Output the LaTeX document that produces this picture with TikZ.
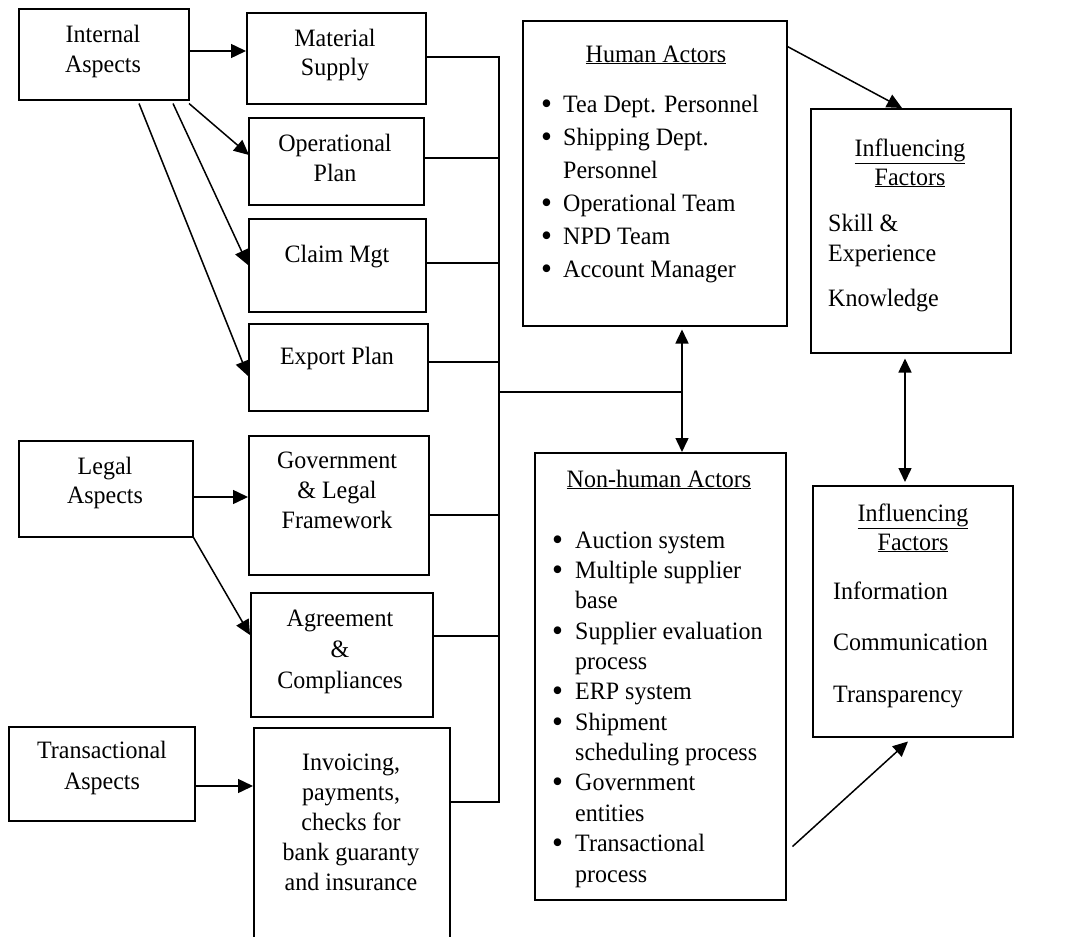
\documentclass[tikz,border=0pt]{standalone}
\usepackage{fontspec}
\usepackage{graphicx}
\setmainfont{Liberation Serif}[FakeStretch=0.96]
\usetikzlibrary{arrows.meta,calc}
\newcommand\bitem[2][22pt]{\makebox[#1][l]{\raisebox{-2pt}{\scalebox{1.3}{\textbullet}}}#2}
\newcommand\bcont[2][22pt]{\makebox[#1]{}#2}
\begin{document}
\begin{tikzpicture}[x=1pt,y=-1pt,
  ln/.style={line width=1.5pt},
  arr/.style={line width=1.5pt,-{Triangle[length=15pt,width=14pt]}},
  darr/.style={line width=1.5pt,{Triangle[length=14pt,width=13pt]}-{Triangle[length=14pt,width=13pt]}},
  box/.style={draw,line width=1.5pt,inner sep=0pt,anchor=north west},
  txt/.style={font=\fontsize{25}{#1}\selectfont,inner sep=0pt,align=center,anchor=base},
  txt/.default=30,
  ltxt/.style={font=\fontsize{25}{#1}\selectfont,inner sep=0pt,align=left,anchor=base west},
  ltxt/.default=30]
\useasboundingbox (0,0) rectangle (1066,937);
\clip (0,0) rectangle (1066,937);
% boxes
\node[box,minimum width=170pt,minimum height=91pt] (ia) at (18,8) {};
\node[box,minimum width=179pt,minimum height=91pt] (ms) at (246,12) {};
\node[box,minimum width=175pt,minimum height=87pt] (op) at (248,117) {};
\node[box,minimum width=177pt,minimum height=93pt] (cm) at (248,218) {};
\node[box,minimum width=179pt,minimum height=87pt] (ep) at (248,323) {};
\node[box,minimum width=174pt,minimum height=96pt] (la) at (18,440) {};
\node[box,minimum width=180pt,minimum height=139pt] (gl) at (248,435) {};
\node[box,minimum width=182pt,minimum height=124pt] (ag) at (250,592) {};
\node[box,minimum width=186pt,minimum height=94pt] (ta) at (8,726) {};
\node[box,minimum width=196pt,minimum height=233pt] (iv) at (253,727) {};
\node[box,minimum width=264pt,minimum height=305pt] (ha) at (522,20) {};
\node[box,minimum width=251pt,minimum height=447pt] (nh) at (534,452) {};
\node[box,minimum width=200pt,minimum height=244pt] (f1) at (810,108) {};
\node[box,minimum width=200pt,minimum height=251pt] (f2) at (812,485) {};
% texts (anchor = baseline of last line)
\node[txt] (tia) at (103,72) {Internal\\Aspects};
\node[txt=29] (tms) at (335,75) {Material\\Supply};
\node[txt] (top) at (335,181) {Operational\\Plan};
\node[txt] (tcm) at (337,262) {Claim Mgt};
\node[txt] (tep) at (337,364) {Export Plan};
\node[txt=29] (tla) at (105,503) {Legal\\Aspects};
\node[txt] (tgl) at (337,528) {Government\\\& Legal\\Framework};
\node[txt=31] (tag) at (340,688) {Agreement\\\&\\Compliances};
\node[txt=31] (tta) at (102,789) {Transactional\\Aspects};
\node[txt] (tiv) at (351,890) {Invoicing,\\payments,\\checks for\\bank guaranty\\and insurance};
\node[txt] (tha) at (656,62) {\underline{Human Actors}};
\node[ltxt=33] (thl) at (541,277) {\bitem{Tea Dept. Personnel}\\\bitem{Shipping Dept.}\\\bcont{Personnel}\\\bitem{Operational Team}\\\bitem{NPD Team}\\\bitem{Account Manager}};
\node[txt=29] (tf1) at (910,185) {\underline{Influencing}\\\underline{Factors}};
\node[ltxt] (tf1b) at (828,306) {Skill \&\\Experience\\[15pt]Knowledge};
\node[txt] (tnh) at (659,487) {\underline{Non-human Actors}};
\node[ltxt=30.36] (tnl) at (552,882) {\bitem[23pt]{Auction system}\\\bitem[23pt]{Multiple supplier}\\\bcont[23pt]{base}\\\bitem[23pt]{Supplier evaluation}\\\bcont[23pt]{process}\\\bitem[23pt]{ERP system}\\\bitem[23pt]{Shipment}\\\bcont[23pt]{scheduling process}\\\bitem[23pt]{Government}\\\bcont[23pt]{entities}\\\bitem[23pt]{Transactional}\\\bcont[23pt]{process}};
\node[txt=29] (tf2) at (913,550) {\underline{Influencing}\\\underline{Factors}};
\node[ltxt=51.5] (tf2b) at (833,702) {Information\\Communication\\Transparency};
% arrows from aspects
\draw[arr] (ia.east |- 0,51) -- (ms.west |- 0,51);
\draw[arr] ($(ia.south west)+(171,3)$) -- ($(op.north west)+(1,38)$);
\draw[arr] ($(ia.south west)+(155,3)$) -- ($(cm.north west)+(0,47)$);
\draw[arr] ($(ia.south west)+(121,3)$) -- ($(ep.north west)+(0,53)$);
\draw[arr] (la.east |- 0,497) -- (gl.west |- 0,497);
\draw[arr] (la.south east) -- ($(ag.north west)+(0,43)$);
\draw[arr] (ta.east |- 0,786) -- (iv.west |- 0,786);
% bus
\coordinate (bt) at (499,57);
\coordinate (bb) at (499,802);
\coordinate (bm) at (499,392);
\coordinate (vx) at (682,0);
\coordinate (wx) at (905,0);
\draw[ln] (ms.east |- bt) -- (bt) -- (bb) -- (iv.east |- bb);
\draw[ln] (op.east |- 0,158) -- (bt |- 0,158);
\draw[ln] (cm.east |- 0,263) -- (bt |- 0,263);
\draw[ln] (ep.east |- 0,362) -- (bt |- 0,362);
\draw[ln] (gl.east |- 0,515) -- (bt |- 0,515);
\draw[ln] (ag.east |- 0,636) -- (bt |- 0,636);
\draw[ln] (bm) -- (bm -| vx);
\draw[darr,shorten <=3pt] (ha.south -| vx) -- (nh.north -| vx);
\draw[darr,shorten <=5pt,shorten >=3pt] (f1.south -| wx) -- (f2.north -| wx);
\draw[arr] ($(ha.north east)+(-1,26)$) -- ($(f1.north west)+(92,0)$);
\draw[arr] ($(nh.south east)+(6,-54)$) -- ($(f2.south west)+(96,4)$);
\end{tikzpicture}
\end{document}
